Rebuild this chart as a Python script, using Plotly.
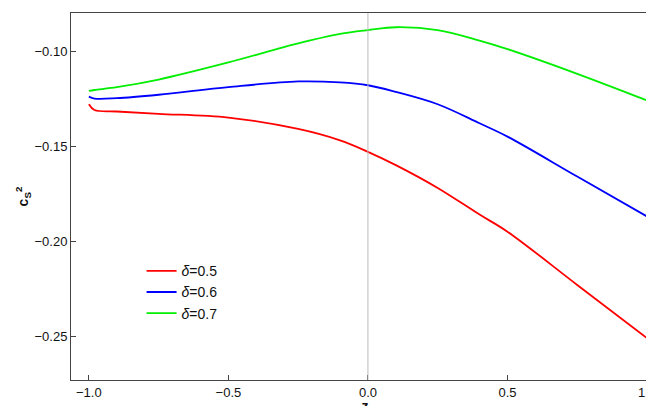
import plotly.graph_objects as go

z = [-1.0, -0.98, -0.9, -0.75, -0.5, -0.25, -0.1, 0.0, 0.1, 0.25, 0.4, 0.5, 0.75, 1.0]
red = [-0.128, -0.131, -0.1318, -0.133, -0.135, -0.141, -0.147, -0.153, -0.160, -0.172, -0.186, -0.195, -0.223, -0.251]
blue = [-0.124, -0.125, -0.1248, -0.123, -0.119, -0.116, -0.1165, -0.118, -0.1215, -0.128, -0.138, -0.145, -0.166, -0.187]
green = [-0.121, -0.1205, -0.119, -0.115, -0.106, -0.096, -0.091, -0.089, -0.0875, -0.089, -0.0945, -0.099, -0.112, -0.126]
names = ["<i>δ</i>=0.5", "<i>δ</i>=0.6", "<i>δ</i>=0.7"]
colors = ["#ff0000", "#0000ff", "#00ee00"]

fig = go.Figure()
for ys, n, c in zip([red, blue, green], names, colors):
    fig.add_trace(go.Scatter(x=z, y=ys, mode="lines", name=n,
                             line=dict(color=c, width=1.8, shape="spline", smoothing=1.0)))

fig.add_vline(x=0, line=dict(color="#bbbbbb", width=1))

ax = dict(showgrid=False, zeroline=False, showline=True, mirror=True,
          linecolor="#444", linewidth=1, ticks="inside", ticklen=5,
          tickcolor="#444", tickfont=dict(size=13, color="#111"), automargin=False)
fig.update_xaxes(range=[-1.064, 1.043], tickvals=[-1, -0.5, 0, 0.5, 1],
                 ticktext=["−1.0", "−0.5", "0.0", "0.5", "1.0"],
                 title=dict(text="<b>z</b>", font=dict(size=14, color="#111"), standoff=2), **ax)
fig.update_yaxes(range=[-0.273, -0.080], tickvals=[-0.25, -0.2, -0.15, -0.1],
                 ticktext=["−0.25", "−0.20", "−0.15", "−0.10"],
                 title=dict(text="<b>c<sub>S</sub><sup>2</sup></b>", font=dict(size=14, color="#111"), standoff=2), **ax)
fig.update_layout(width=654, height=406, margin=dict(l=63, r=3, t=5, b=34),
                  plot_bgcolor="white", paper_bgcolor="white",
                  font=dict(family="Liberation Sans"),
                  legend=dict(x=0.12, y=0.34, xanchor="left", yanchor="top",
                              bgcolor="rgba(0,0,0,0)", font=dict(size=14, color="#111"),
                              tracegroupgap=4))
fig.write_html("out.html")
